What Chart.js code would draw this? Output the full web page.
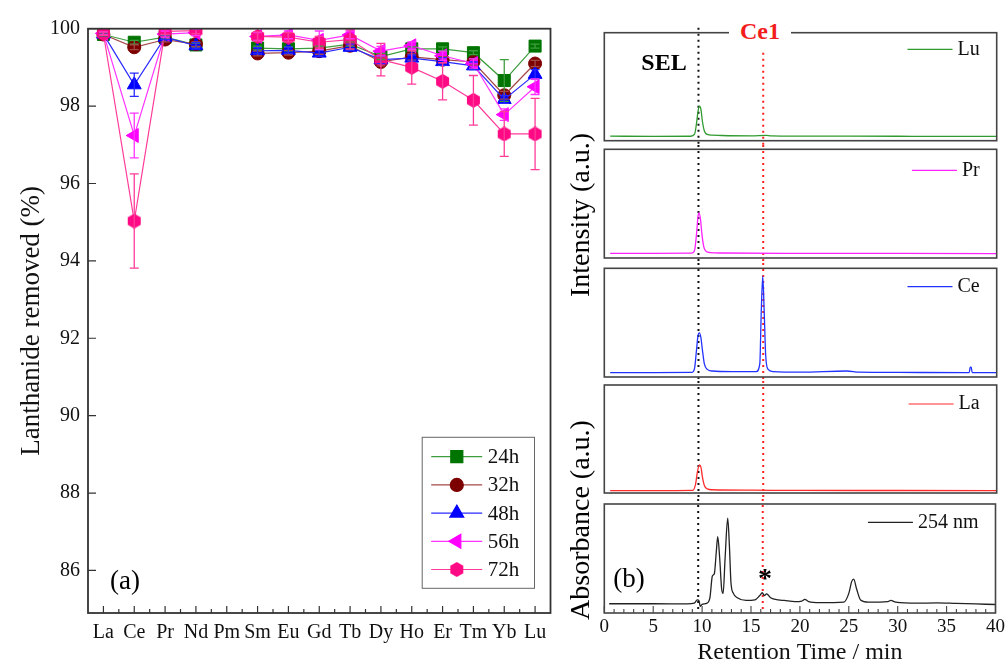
<!DOCTYPE html>
<html>
<head>
<meta charset="utf-8">
<script src="https://cdn.jsdelivr.net/npm/chart.js@4.4.1/dist/chart.umd.min.js"></script>
<style>
  body { margin: 0; background: #fff; width: 1008px; height: 663px; overflow: hidden; position: relative; font-family: 'Liberation Serif', serif; }
  canvas { position: absolute; }
  .t { position: absolute; white-space: nowrap; line-height: 1; transform: translate(-50%, -50%); }
  .rot { transform: translate(-50%, -50%) rotate(-90deg); }
</style>
</head>
<body>
<canvas id="ca" width="560" height="663" style="left:0;top:0"></canvas>
<canvas id="b1" width="448" height="145" style="left:560px;top:0"></canvas>
<canvas id="b2" width="448" height="118" style="left:560px;top:145px"></canvas>
<canvas id="b3" width="448" height="118" style="left:560px;top:263px"></canvas>
<canvas id="b4" width="448" height="118" style="left:560px;top:381px"></canvas>
<canvas id="b5" width="448" height="171" style="left:560px;top:499px"></canvas>

<div class="t" style="left:125px;top:580px;font-size:27px">(a)</div>
<div class="t" style="left:629px;top:578px;font-size:27px">(b)</div>
<div class="t" style="left:664px;top:62px;font-size:24px;font-weight:bold">SEL</div>
<div class="t" style="left:760px;top:31px;font-size:24px;font-weight:bold;color:#f31c1c;background:#fff;padding:2px 11px">Ce1</div>
<div class="t" style="left:765px;top:578px;font-size:28px;font-weight:bold">*</div>
<div class="t rot" style="left:580px;top:215px;font-size:28px">Intensity (a.u.)</div>
<div class="t rot" style="left:580px;top:520px;font-size:28px">Absorbance (a.u.)</div>

<script>
// ---- panel (a): lanthanide removal ----
const ELEMENTS = ['La', 'Ce', 'Pr', 'Nd', 'Pm', 'Sm', 'Eu', 'Gd', 'Tb', 'Dy', 'Ho', 'Er', 'Tm', 'Yb', 'Lu'];
const Y_TICKS = [86, 88, 90, 92, 94, 96, 98, 100];

const REM_24H = [99.85, 99.65, 99.78, 99.58, null, 99.5, 99.48, 99.5, 99.6, 99.28, 99.48, 99.48, 99.38, 98.66, 99.55];
const REM_32H = [99.85, 99.52, 99.72, 99.6, null, 99.36, 99.38, 99.42, 99.56, 99.14, 99.27, 99.2, 99.14, 98.28, 99.1];
const REM_48H = [99.86, 98.55, 99.78, 99.56, null, 99.43, 99.44, 99.37, 99.52, 99.2, 99.24, 99.15, 99.04, 98.17, 98.82];
const REM_56H = [99.88, 97.24, 99.86, 99.9, null, 99.8, 99.84, 99.7, 99.84, 99.42, 99.56, 99.3, 99.1, 97.78, 98.5];
const REM_72H = [99.87, 95.03, 99.93, 99.95, null, 99.8, 99.78, 99.65, 99.72, 99.2, 99.0, 98.64, 98.15, 97.28, 97.28];

const ERR_24H = [0.04, 0.05, 0.05, 0.05, null, 0.05, 0.05, 0.05, 0.05, 0.08, 0.05, 0.05, 0.05, 0.54, 0.05];
const ERR_32H = [0.04, 0.06, 0.06, 0.06, null, 0.06, 0.06, 0.08, 0.08, 0.1, 0.08, 0.08, 0.08, 0.1, 0.08];
const ERR_48H = [0.04, 0.3, 0.06, 0.08, null, 0.08, 0.08, 0.08, 0.08, 0.1, 0.08, 0.1, 0.1, 0.1, 0.12];
const ERR_56H = [0.04, 0.58, 0.08, 0.08, null, 0.1, 0.1, 0.24, 0.1, 0.12, 0.1, 0.12, 0.12, 0.15, 0.2];
const ERR_72H = [0.04, 1.22, 0.08, 0.08, null, 0.12, 0.12, 0.15, 0.25, 0.42, 0.43, 0.48, 0.64, 0.58, 0.92];

const SERIES_LABELS = ['24h', '32h', '48h', '56h', '72h'];
const LINE_COLORS = ['#3e9e3e', '#a44848', '#2a2aff', '#ff33ff', '#ff3b9a'];
const MARK_COLORS = ['#007400', '#7c0000', '#0000ff', '#ff00ff', '#ff0a84'];

// ---- panel (b): chromatograms ----
const SEL_TIME = 9.6;
const CE1_TIME = 16.2;
const RT_TICKS = [0, 5, 10, 15, 20, 25, 30, 35, 40];

const LU_T = [0.6, 5, 8.8, 9.2, 9.4, 9.55, 9.7, 9.85, 10.0, 10.2, 10.5, 11, 12, 15, 16.5, 17, 20, 25, 30, 35, 40];
const LU_I = [4.2, 4.0, 4.1, 6, 16, 27, 32, 29, 18, 9, 5.8, 5.2, 4.8, 4.5, 4.9, 4.5, 4.3, 4.2, 4.1, 4.0, 4.0];

const PR_T = [0.6, 5, 8.9, 9.2, 9.4, 9.55, 9.65, 9.8, 9.95, 10.15, 10.4, 10.8, 12, 20, 30, 40];
const PR_I = [4.3, 4.3, 4.4, 7, 22, 38, 41.5, 36, 22, 10, 6, 5, 4.6, 4.3, 4.2, 4.1];

const CE_T = [0.6, 5, 8.9, 9.2, 9.4, 9.55, 9.7, 9.85, 10.0, 10.2, 10.5, 11, 13, 15.5, 15.85, 16.0, 16.15, 16.3, 16.45, 16.7, 17.2, 20, 24.7, 26, 30, 37.2, 37.3, 37.4, 37.5, 40];
const CE_I = [4, 4, 4.2, 8, 25, 38, 40.6, 36, 25, 12, 7, 5.5, 5, 5, 12, 60, 92.7, 60, 20, 7, 5, 4.5, 5.5, 4.5, 4.2, 4, 9, 9, 4, 4];

const LA_T = [0.6, 5, 9, 9.3, 9.5, 9.7, 9.85, 10.0, 10.2, 10.5, 11, 15, 20, 30, 40];
const LA_I = [2.2, 2.2, 2.4, 8, 20, 26, 24, 15, 7, 3.8, 3, 2.6, 2.4, 2.3, 2.2];

const UV_T = [0.5, 5, 8.5, 9.2, 9.5, 9.7, 9.8, 10.0, 10.5, 10.8, 11.05, 11.25, 11.45, 11.6, 11.8, 12.0, 12.15, 12.35, 12.62, 12.8, 12.95, 13.2, 13.6, 14.5, 15.4, 15.9, 16.15, 16.35, 16.6, 17.0, 17.8, 18.4, 19.5, 20.2, 20.5, 20.9, 22, 24.5, 25.0, 25.3, 25.5, 25.8, 26.2, 27, 29, 29.3, 29.8, 32, 34, 36, 38, 40];
const UV_I = [8.5, 8.5, 8.3, 9.0, 12.0, 11, 6, 8, 9, 14, 34, 36, 56, 70, 50, 22, 18, 50, 87, 60, 28, 18, 14, 11.5, 12, 16, 18.6, 16, 17.5, 14, 12, 11.5, 10.5, 11, 12.5, 10.5, 9.5, 10, 18, 29, 31, 22, 12, 10, 10.5, 11.5, 10, 9, 9.3, 8.8, 8.3, 7.8];

const SERIF = 'Liberation Serif';

// hexagon marker for the 72h series
function hexagon(size, color) {
  const c = document.createElement('canvas');
  c.width = size; c.height = size;
  const g = c.getContext('2d');
  const r = size / 2;
  g.beginPath();
  for (let k = 0; k < 6; k++) {
    const a = (-90 + 60 * k) * Math.PI / 180;
    g.lineTo(r + r * Math.cos(a), r + r * Math.sin(a));
  }
  g.closePath();
  g.fillStyle = color;
  g.fill();
  return c;
}

const POINT_STYLES = ['rect', 'circle', 'triangle', 'triangle', hexagon(15, MARK_COLORS[4])];
const POINT_RADII = [8.5, 6.5, 8, 8, 7.5];
const POINT_ROT = [0, 0, 0, -90, 0];

const frameA = {
  id: 'frameA',
  afterDraw(chart) {
    const { ctx, chartArea: a, scales: { x, y } } = chart;
    ctx.save();
    ctx.strokeStyle = '#333';
    ctx.lineWidth = 1.2;
    ctx.beginPath();
    Y_TICKS.forEach(v => {
      const py = y.getPixelForValue(v);
      ctx.moveTo(a.left, py); ctx.lineTo(a.left + 8, py);
    });
    ELEMENTS.forEach((_, i) => {
      const px = x.getPixelForValue(i);
      ctx.moveTo(px, a.bottom); ctx.lineTo(px, a.bottom - 7);
      if (i < ELEMENTS.length - 1) {
        const mx = (px + x.getPixelForValue(i + 1)) / 2;
        ctx.moveTo(mx, a.bottom); ctx.lineTo(mx, a.bottom - 4);
      }
    });
    ctx.stroke();
    ctx.lineWidth = 1.8;
    ctx.strokeRect(a.left, a.top, a.right - a.left, a.bottom - a.top);
    ctx.restore();
  }
};

const errorBars = {
  id: 'errorBars',
  afterDatasetsDraw(chart) {
    const { ctx, chartArea: a, scales: { y } } = chart;
    ctx.save();
    ctx.beginPath();
    ctx.rect(a.left, a.top, a.right - a.left, a.bottom - a.top);
    ctx.clip();
    chart.data.datasets.forEach((ds, di) => {
      const meta = chart.getDatasetMeta(di);
      ctx.strokeStyle = ds.borderColor;
      ctx.lineWidth = 1.3;
      ds.errors.forEach((e, i) => {
        const v = ds.data[i];
        if (v == null || e == null) return;
        const px = meta.data[i].x;
        const top = y.getPixelForValue(v + e), bot = y.getPixelForValue(v - e);
        ctx.beginPath();
        ctx.moveTo(px, top); ctx.lineTo(px, bot);
        ctx.moveTo(px - 4.5, top); ctx.lineTo(px + 4.5, top);
        ctx.moveTo(px - 4.5, bot); ctx.lineTo(px + 4.5, bot);
        ctx.stroke();
      });
    });
    ctx.restore();
  }
};

const legendA = {
  id: 'legendA',
  afterDraw(chart) {
    const { ctx, chartArea: a } = chart;
    const bx = a.right - 128.3, by = a.bottom - 175.7;
    ctx.save();
    ctx.strokeStyle = '#666';
    ctx.lineWidth = 1;
    ctx.strokeRect(bx, by, 112.3, 151);
    ctx.font = `21px "${SERIF}"`;
    ctx.textBaseline = 'middle';
    chart.data.datasets.forEach((ds, i) => {
      const ly = by + 19.4 + i * 28.2;
      ctx.strokeStyle = ds.borderColor;
      ctx.lineWidth = 1.2;
      ctx.beginPath(); ctx.moveTo(bx + 9, ly); ctx.lineTo(bx + 60, ly); ctx.stroke();
      ctx.fillStyle = ds.pointBackgroundColor;
      ctx.strokeStyle = ds.pointBorderColor;
      Chart.helpers.drawPoint(ctx, { pointStyle: ds.pointStyle, radius: ds.pointRadius, rotation: ds.pointRotation, borderWidth: 1 }, bx + 34.6, ly);
      ctx.fillStyle = '#111';
      ctx.fillText(ds.label, bx + 65.6, ly + 1);
    });
    ctx.restore();
  }
};

const removal = [REM_24H, REM_32H, REM_48H, REM_56H, REM_72H];
const errs = [ERR_24H, ERR_32H, ERR_48H, ERR_56H, ERR_72H];

new Chart(document.getElementById('ca'), {
  type: 'line',
  data: {
    labels: ELEMENTS,
    datasets: SERIES_LABELS.map((lab, i) => ({
      label: lab,
      data: removal[i],
      errors: errs[i],
      borderColor: LINE_COLORS[i],
      borderWidth: 1.2,
      pointStyle: POINT_STYLES[i],
      pointRadius: POINT_RADII[i],
      pointRotation: POINT_ROT[i],
      pointBackgroundColor: MARK_COLORS[i],
      pointBorderColor: MARK_COLORS[i],
      pointBorderWidth: 1,
      spanGaps: false,
      order: 4 - i,
    })),
  },
  options: {
    responsive: false,
    animation: false,
    devicePixelRatio: 1,
    layout: { padding: { top: 28.7, right: 9, left: 0, bottom: 0 } },
    plugins: { legend: { display: false }, tooltip: { enabled: false } },
    scales: {
      x: {
        type: 'category',
        offset: true,
        grid: { display: false, drawTicks: false },
        border: { display: false },
        ticks: { color: '#111', font: { family: SERIF, size: 20 }, padding: 8, maxRotation: 0, autoSkip: false },
        afterFit: s => { s.height = 50; },
      },
      y: {
        min: 84.9, max: 100,
        grid: { display: false, drawTicks: false },
        border: { display: false },
        afterBuildTicks: s => { s.ticks = Y_TICKS.map(v => ({ value: v })); },
        ticks: { color: '#111', font: { family: SERIF, size: 20 }, padding: 8 },
        title: { display: true, text: 'Lanthanide removed (%)', color: '#111', font: { family: SERIF, size: 27 }, padding: { top: 16 } },
        afterFit: s => { s.width = 88; },
      },
    },
  },
  plugins: [errorBars, frameA, legendA],
});

// ---- panel (b) ----
const panelDeco = {
  id: 'panelDeco',
  beforeDatasetsDraw(chart, args, opts) {
    const { ctx, chartArea: a, scales: { x } } = chart;
    ctx.save();
    ctx.lineWidth = 2;
    ctx.setLineDash([2, 4]);
    [[SEL_TIME, '#111', opts.selTop], [CE1_TIME, '#ff2020', opts.ceTop]].forEach(([t, c, top]) => {
      const px = x.getPixelForValue(t);
      ctx.strokeStyle = c;
      ctx.beginPath();
      ctx.moveTo(px, top == null ? 0 : a.top + top);
      ctx.lineTo(px, opts.last ? a.bottom : chart.height);
      ctx.stroke();
    });
    ctx.restore();
  },
  afterDraw(chart, args, opts) {
    const { ctx, chartArea: a, scales: { x } } = chart;
    const ds = chart.data.datasets[0];
    ctx.save();
    ctx.strokeStyle = '#444';
    ctx.lineWidth = 1.6;
    ctx.strokeRect(a.left, a.top, a.right - a.left, a.bottom - a.top);
    if (opts.last) {
      ctx.lineWidth = 1.1;
      ctx.beginPath();
      for (let m = 0; m <= 40; m++) {
        const px = x.getPixelForValue(m);
        ctx.moveTo(px, a.bottom);
        ctx.lineTo(px, a.bottom - (m % 5 === 0 ? 7 : 4));
      }
      ctx.stroke();
    }
    // legend entry
    ctx.font = `20px "${SERIF}"`;
    ctx.textBaseline = 'middle';
    ctx.textAlign = 'right';
    const tx = a.right - 17, ty = a.top + opts.legY;
    ctx.fillStyle = '#111';
    ctx.fillText(ds.label, tx, ty);
    const w = ctx.measureText(ds.label).width;
    ctx.strokeStyle = ds.borderColor;
    ctx.lineWidth = 1.2;
    ctx.beginPath();
    ctx.moveTo(tx - w - 50, ty); ctx.lineTo(tx - w - 5, ty);
    ctx.stroke();
    ctx.restore();
  }
};

function makePanel(id, times, vals, color, label, pad, deco) {
  const last = !!deco.last;
  new Chart(document.getElementById(id), {
    type: 'line',
    data: {
      datasets: [{
        label,
        data: times.map((t, i) => ({ x: t, y: vals[i] })),
        borderColor: color,
        borderWidth: 1.3,
        pointRadius: 0,
        cubicInterpolationMode: 'monotone',
      }],
    },
    options: {
      responsive: false,
      animation: false,
      devicePixelRatio: 1,
      layout: { padding: { left: 44.3, right: 11.3, top: pad[0], bottom: pad[1] } },
      plugins: { legend: { display: false }, tooltip: { enabled: false }, panelDeco: deco },
      scales: {
        x: {
          type: 'linear', min: 0, max: 40,
          display: last,
          grid: { display: false, drawTicks: false },
          border: { display: false },
          afterBuildTicks: s => { s.ticks = RT_TICKS.map(v => ({ value: v })); },
          ticks: { color: '#111', font: { family: SERIF, size: 19 }, padding: 3, maxRotation: 0 },
          title: { display: last, text: 'Retention Time / min', color: '#111', font: { family: SERIF, size: 24 }, padding: { top: 0, bottom: 2.6 } },
          afterFit: s => { if (last) s.height = 57; },
        },
        y: { min: 0, max: 100, display: false },
      },
    },
    plugins: [panelDeco],
  });
}

makePanel('b1', LU_T, LU_I, '#2f9a2f', 'Lu', [32.7, 4.3], { selTop: -5, ceTop: 20, legY: 16.6 });
makePanel('b2', PR_T, PR_I, '#ff22ff', 'Pr', [4.3, 5], { legY: 21 });
makePanel('b3', CE_T, CE_I, '#2233ff', 'Ce', [5.3, 4], { legY: 18.4 });
makePanel('b4', LA_T, LA_I, '#ff2a2a', 'La', [4, 6], { legY: 19 });
makePanel('b5', UV_T, UV_I, '#222', '254 nm', [5, 0], { legY: 18.3, last: true });
</script>
</body>
</html>
